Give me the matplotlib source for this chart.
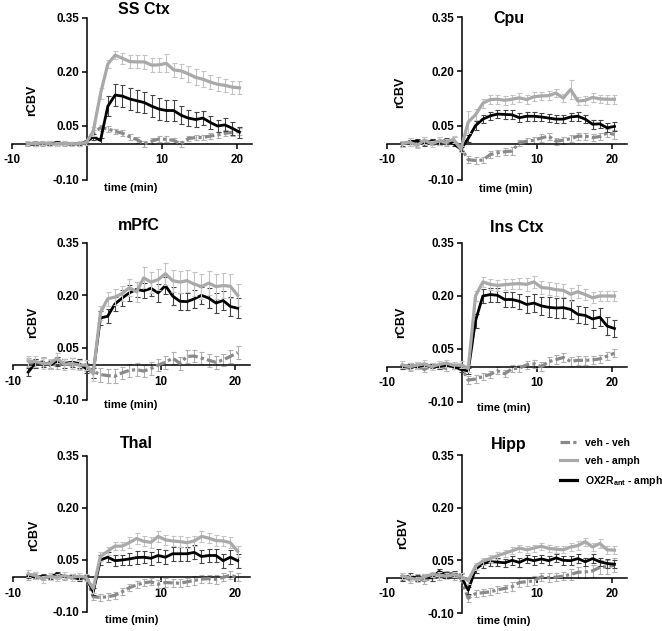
import matplotlib
matplotlib.use('Agg')
import matplotlib.pyplot as plt
from matplotlib.lines import Line2D

plt.rcParams['font.family'] = ['Liberation Sans', 'DejaVu Sans']
plt.rcParams['font.weight'] = 'bold'
plt.rcParams['mathtext.fontset'] = 'custom'
plt.rcParams['mathtext.rm'] = 'Liberation Sans:bold'
plt.rcParams['mathtext.bf'] = 'Liberation Sans:bold'
plt.rcParams['mathtext.it'] = 'Liberation Sans:bold'

# ---------------- data ----------------
time = [-7.95, -6.98, -6.00, -5.03, -4.05, -3.08, -2.10, -1.13, -0.15, 0.83,
        1.80, 2.78, 3.75, 4.73, 5.70, 6.68, 7.65, 8.63, 9.60, 10.58,
        11.55, 12.53, 13.50, 14.48, 15.45, 16.43, 17.40, 18.38, 19.35, 20.33]

regions = ['SS Ctx', 'Cpu', 'mPfC', 'Ins Ctx', 'Thal', 'Hipp']
series_labels = ['veh - veh', 'veh - amph', r'OX2R$_{\mathbf{ant}}$ - amph']
x_ticks = [-10, 10, 20]
y_ticks = [-0.10, 0.05, 0.20, 0.35]
y_tick_labels = ['-0.10', '0.05', '0.20', '0.35']

ss_vv = [0.000, 0.003, 0.000, 0.002, 0.000, 0.001, 0.000, 0.000, 0.002, 0.030, 0.045, 0.042, 0.035, 0.030, 0.020, 0.012, 0.000, 0.008, 0.014, 0.013, 0.010, 0.000, 0.015, 0.018, 0.018, 0.022, 0.025, 0.030, 0.032, 0.035]
ss_va = [0.002, 0.000, 0.003, 0.001, 0.000, 0.002, 0.000, 0.001, 0.003, 0.035, 0.140, 0.222, 0.247, 0.238, 0.229, 0.228, 0.228, 0.219, 0.220, 0.224, 0.206, 0.203, 0.195, 0.185, 0.180, 0.172, 0.166, 0.163, 0.158, 0.156]
ss_ox = [0.000, -0.002, 0.002, 0.000, 0.004, 0.000, 0.001, 0.000, 0.005, 0.020, 0.010, 0.105, 0.136, 0.133, 0.125, 0.120, 0.115, 0.105, 0.097, 0.093, 0.093, 0.080, 0.072, 0.068, 0.072, 0.060, 0.050, 0.053, 0.044, 0.033]
ss_vv_err = [0.006, 0.006, 0.005, 0.006, 0.005, 0.006, 0.005, 0.006, 0.006, 0.008, 0.008, 0.008, 0.008, 0.008, 0.008, 0.008, 0.008, 0.008, 0.008, 0.008, 0.008, 0.008, 0.008, 0.008, 0.008, 0.008, 0.008, 0.009, 0.010, 0.010]
ss_va_err = [0.006, 0.006, 0.006, 0.006, 0.006, 0.006, 0.006, 0.006, 0.006, 0.012, 0.015, 0.012, 0.012, 0.015, 0.018, 0.018, 0.020, 0.020, 0.020, 0.025, 0.020, 0.020, 0.022, 0.022, 0.022, 0.020, 0.020, 0.018, 0.018, 0.018]
ss_ox_err = [0.004, 0.004, 0.004, 0.004, 0.004, 0.004, 0.004, 0.004, 0.005, 0.008, 0.008, 0.028, 0.030, 0.030, 0.030, 0.030, 0.030, 0.030, 0.030, 0.030, 0.028, 0.025, 0.022, 0.020, 0.020, 0.018, 0.018, 0.018, 0.018, 0.015]

cpu_vv = [0.000, 0.005, 0.000, 0.008, 0.005, 0.010, 0.002, 0.010, -0.010, -0.044, -0.046, -0.045, -0.030, -0.025, -0.022, -0.020, 0.003, 0.007, 0.010, 0.016, 0.021, 0.007, 0.010, 0.014, 0.021, 0.021, 0.017, 0.020, 0.030, 0.026]
cpu_va = [0.000, 0.005, -0.005, 0.010, 0.000, 0.008, 0.005, 0.012, -0.015, 0.060, 0.080, 0.112, 0.122, 0.123, 0.120, 0.123, 0.127, 0.122, 0.130, 0.132, 0.133, 0.140, 0.126, 0.150, 0.118, 0.120, 0.128, 0.124, 0.123, 0.123]
cpu_ox = [0.000, 0.005, 0.008, 0.000, 0.007, 0.003, 0.010, 0.000, -0.015, 0.015, 0.050, 0.068, 0.077, 0.082, 0.081, 0.080, 0.072, 0.076, 0.076, 0.074, 0.071, 0.068, 0.068, 0.074, 0.076, 0.068, 0.054, 0.055, 0.044, 0.048]
cpu_vv_err = [0.008, 0.010, 0.008, 0.010, 0.008, 0.010, 0.008, 0.010, 0.008, 0.010, 0.010, 0.008, 0.010, 0.008, 0.010, 0.010, 0.008, 0.008, 0.010, 0.010, 0.010, 0.010, 0.010, 0.010, 0.010, 0.010, 0.010, 0.010, 0.012, 0.012]
cpu_va_err = [0.008, 0.010, 0.008, 0.010, 0.008, 0.010, 0.008, 0.010, 0.008, 0.030, 0.015, 0.012, 0.012, 0.012, 0.012, 0.012, 0.012, 0.012, 0.012, 0.012, 0.012, 0.012, 0.012, 0.025, 0.012, 0.012, 0.012, 0.012, 0.012, 0.012]
cpu_ox_err = [0.006, 0.006, 0.006, 0.006, 0.006, 0.006, 0.006, 0.006, 0.006, 0.010, 0.012, 0.012, 0.012, 0.012, 0.012, 0.012, 0.012, 0.012, 0.012, 0.012, 0.012, 0.012, 0.012, 0.012, 0.012, 0.012, 0.012, 0.012, 0.012, 0.012]

mp_vv = [0.008, 0.005, 0.010, 0.003, 0.000, 0.005, 0.000, 0.002, -0.005, -0.018, -0.027, -0.030, -0.032, -0.022, -0.015, -0.013, -0.017, -0.010, 0.000, 0.008, 0.020, 0.005, 0.025, 0.026, 0.020, 0.014, 0.008, 0.015, 0.025, 0.036]
mp_va = [0.012, 0.010, 0.005, 0.003, 0.020, 0.002, 0.005, 0.000, 0.000, -0.025, 0.150, 0.190, 0.195, 0.205, 0.222, 0.210, 0.250, 0.238, 0.245, 0.262, 0.242, 0.238, 0.242, 0.232, 0.225, 0.235, 0.225, 0.228, 0.226, 0.200]
mp_ox = [-0.020, 0.005, 0.008, 0.000, 0.010, 0.005, 0.008, 0.005, -0.010, -0.022, 0.135, 0.140, 0.175, 0.192, 0.207, 0.217, 0.213, 0.220, 0.207, 0.228, 0.198, 0.183, 0.182, 0.190, 0.200, 0.192, 0.178, 0.185, 0.168, 0.163]
mp_vv_err = [0.012, 0.012, 0.012, 0.012, 0.012, 0.012, 0.012, 0.012, 0.012, 0.020, 0.020, 0.020, 0.020, 0.018, 0.018, 0.018, 0.018, 0.018, 0.018, 0.018, 0.018, 0.018, 0.018, 0.018, 0.018, 0.018, 0.018, 0.018, 0.018, 0.018]
mp_va_err = [0.015, 0.015, 0.015, 0.015, 0.015, 0.015, 0.015, 0.015, 0.015, 0.020, 0.020, 0.020, 0.022, 0.022, 0.025, 0.028, 0.030, 0.030, 0.030, 0.032, 0.032, 0.032, 0.032, 0.035, 0.035, 0.035, 0.035, 0.035, 0.035, 0.032]
mp_ox_err = [0.012, 0.012, 0.012, 0.012, 0.012, 0.012, 0.012, 0.012, 0.012, 0.015, 0.020, 0.020, 0.020, 0.022, 0.022, 0.022, 0.022, 0.022, 0.025, 0.025, 0.025, 0.025, 0.025, 0.025, 0.025, 0.028, 0.028, 0.028, 0.028, 0.028]

ins_vv = [0.000, -0.005, 0.005, -0.008, 0.003, 0.000, -0.005, 0.005, 0.000, -0.038, -0.035, -0.028, -0.022, -0.012, -0.020, -0.006, -0.004, 0.005, 0.008, 0.000, 0.014, 0.020, 0.026, 0.015, 0.018, 0.018, 0.019, 0.022, 0.030, 0.038]
ins_va = [0.005, 0.000, 0.004, 0.008, 0.000, 0.006, 0.010, 0.004, 0.005, -0.005, 0.200, 0.240, 0.233, 0.230, 0.232, 0.234, 0.235, 0.233, 0.240, 0.224, 0.222, 0.218, 0.216, 0.205, 0.212, 0.204, 0.195, 0.200, 0.200, 0.200]
ins_ox = [0.000, 0.003, 0.000, 0.005, 0.002, 0.000, 0.005, 0.000, -0.008, -0.012, 0.130, 0.200, 0.204, 0.202, 0.190, 0.190, 0.185, 0.176, 0.180, 0.172, 0.168, 0.166, 0.167, 0.162, 0.148, 0.145, 0.135, 0.140, 0.115, 0.108]
ins_vv_err = [0.008, 0.008, 0.008, 0.008, 0.008, 0.008, 0.008, 0.008, 0.008, 0.012, 0.010, 0.010, 0.010, 0.010, 0.010, 0.010, 0.010, 0.012, 0.012, 0.012, 0.012, 0.012, 0.012, 0.012, 0.012, 0.012, 0.012, 0.012, 0.012, 0.012]
ins_va_err = [0.010, 0.010, 0.010, 0.010, 0.010, 0.010, 0.010, 0.010, 0.010, 0.010, 0.015, 0.015, 0.015, 0.015, 0.015, 0.015, 0.015, 0.018, 0.018, 0.018, 0.018, 0.018, 0.018, 0.018, 0.018, 0.015, 0.015, 0.015, 0.015, 0.015]
ins_ox_err = [0.006, 0.006, 0.006, 0.006, 0.006, 0.006, 0.006, 0.006, 0.006, 0.008, 0.020, 0.020, 0.020, 0.020, 0.020, 0.022, 0.022, 0.025, 0.025, 0.025, 0.028, 0.028, 0.028, 0.028, 0.025, 0.025, 0.025, 0.025, 0.025, 0.025]

th_vv = [0.000, 0.008, 0.000, 0.000, 0.003, 0.000, 0.002, 0.000, 0.000, -0.056, -0.058, -0.056, -0.052, -0.042, -0.030, -0.022, -0.016, -0.013, -0.020, -0.015, -0.016, -0.017, -0.013, -0.009, -0.005, -0.004, -0.006, 0.000, 0.006, 0.000]
th_va = [0.010, 0.005, -0.005, 0.003, 0.000, 0.005, 0.000, 0.003, 0.000, -0.032, 0.060, 0.075, 0.090, 0.090, 0.100, 0.112, 0.104, 0.101, 0.118, 0.108, 0.105, 0.103, 0.100, 0.105, 0.118, 0.113, 0.106, 0.105, 0.100, 0.075]
th_ox = [0.005, 0.000, 0.003, 0.000, 0.010, 0.002, 0.003, -0.005, 0.000, -0.042, 0.050, 0.058, 0.048, 0.050, 0.053, 0.057, 0.058, 0.055, 0.063, 0.058, 0.068, 0.068, 0.068, 0.072, 0.060, 0.063, 0.063, 0.048, 0.058, 0.048]
th_vv_err = [0.008, 0.008, 0.008, 0.008, 0.008, 0.008, 0.008, 0.008, 0.008, 0.010, 0.010, 0.010, 0.010, 0.010, 0.010, 0.010, 0.010, 0.010, 0.012, 0.012, 0.012, 0.012, 0.012, 0.012, 0.012, 0.012, 0.012, 0.012, 0.012, 0.012]
th_va_err = [0.010, 0.010, 0.010, 0.010, 0.010, 0.010, 0.010, 0.010, 0.010, 0.012, 0.012, 0.012, 0.012, 0.012, 0.015, 0.015, 0.015, 0.015, 0.015, 0.015, 0.015, 0.015, 0.015, 0.015, 0.015, 0.015, 0.015, 0.015, 0.015, 0.015]
th_ox_err = [0.006, 0.006, 0.006, 0.006, 0.006, 0.006, 0.006, 0.006, 0.006, 0.010, 0.015, 0.015, 0.015, 0.015, 0.018, 0.018, 0.018, 0.018, 0.020, 0.020, 0.020, 0.020, 0.020, 0.020, 0.020, 0.020, 0.020, 0.020, 0.020, 0.020]

hp_vv = [0.005, -0.005, 0.000, -0.008, 0.000, 0.005, 0.010, 0.005, 0.000, -0.058, -0.045, -0.042, -0.040, -0.034, -0.030, -0.025, -0.013, -0.011, -0.008, 0.003, 0.001, 0.002, 0.005, 0.010, 0.016, 0.017, 0.020, 0.030, 0.032, 0.036]
hp_va = [0.005, 0.000, -0.005, 0.003, 0.010, 0.008, 0.005, 0.010, 0.005, -0.008, 0.033, 0.048, 0.055, 0.063, 0.070, 0.077, 0.085, 0.080, 0.085, 0.090, 0.084, 0.082, 0.080, 0.088, 0.092, 0.103, 0.088, 0.098, 0.080, 0.079]
hp_ox = [0.000, 0.005, 0.000, 0.003, 0.000, 0.018, 0.010, 0.012, 0.005, -0.035, 0.025, 0.040, 0.046, 0.045, 0.043, 0.050, 0.044, 0.054, 0.049, 0.054, 0.049, 0.057, 0.050, 0.049, 0.055, 0.046, 0.055, 0.046, 0.041, 0.039]
hp_vv_err = [0.010, 0.010, 0.010, 0.010, 0.010, 0.010, 0.010, 0.010, 0.010, 0.010, 0.010, 0.010, 0.010, 0.010, 0.010, 0.012, 0.012, 0.012, 0.012, 0.012, 0.012, 0.012, 0.012, 0.015, 0.015, 0.018, 0.018, 0.020, 0.020, 0.020]
hp_va_err = [0.008, 0.008, 0.008, 0.008, 0.008, 0.008, 0.008, 0.008, 0.008, 0.010, 0.010, 0.010, 0.010, 0.010, 0.010, 0.010, 0.010, 0.010, 0.010, 0.010, 0.010, 0.010, 0.010, 0.012, 0.012, 0.012, 0.012, 0.012, 0.012, 0.012]
hp_ox_err = [0.008, 0.008, 0.008, 0.008, 0.008, 0.008, 0.008, 0.008, 0.008, 0.010, 0.012, 0.012, 0.012, 0.012, 0.012, 0.012, 0.012, 0.012, 0.012, 0.012, 0.012, 0.012, 0.012, 0.012, 0.012, 0.012, 0.012, 0.012, 0.012, 0.012]

panel_data = [
    (ss_vv, ss_va, ss_ox, ss_vv_err, ss_va_err, ss_ox_err),
    (cpu_vv, cpu_va, cpu_ox, cpu_vv_err, cpu_va_err, cpu_ox_err),
    (mp_vv, mp_va, mp_ox, mp_vv_err, mp_va_err, mp_ox_err),
    (ins_vv, ins_va, ins_ox, ins_vv_err, ins_va_err, ins_ox_err),
    (th_vv, th_va, th_ox, th_vv_err, th_va_err, th_ox_err),
    (hp_vv, hp_va, hp_ox, hp_vv_err, hp_va_err, hp_ox_err),
]

# ---------------- layout (pixels) ----------------
W, H = 662, 631
# L, R, T, B of axes box; title centre; rCBV centre; time label centre
layout = [
    (12, 252, 18, 180, (144, 10), (32, 100), (131, 188)),
    (387, 627, 17, 180, (509, 18), (400, 92), (506, 189)),
    (13, 250, 243, 400, (139, 225), (33, 322), (131, 405)),
    (387, 627, 243, 402, (517, 228), (401, 322), (504, 408)),
    (13, 250, 456, 612, (136, 444), (34, 535), (132, 620)),
    (387, 627, 455, 613, (509, 445), (403, 533), (504, 621)),
]

c_vv = '#8a8a8a'
c_va = '#a9a9a9'
c_ox = '#000000'
vv_style = (0, (3.0, 1.0, 1.0, 1.0))

fig = plt.figure(figsize=(W / 100, H / 100), dpi=100)


def fx(px):
    return px / W


def fy(py):
    return 1 - py / H


for name, (L, R, T, B, tpos, ypos, xpos), d in zip(regions, layout, panel_data):
    vv, va, ox, vv_e, va_e, ox_e = d
    ax = fig.add_axes([fx(L), fy(B), (R - L) / W, (B - T) / H])
    ax.set_xlim(-10, 22)
    ax.set_ylim(-0.10, 0.35)
    for s in ('top', 'right'):
        ax.spines[s].set_visible(False)
    ax.spines['left'].set_position(('data', 0))
    ax.spines['bottom'].set_position(('data', 0))
    for s in ('left', 'bottom'):
        ax.spines[s].set_linewidth(1.1)
    ax.set_xticks(x_ticks)
    ax.set_xticklabels([str(v) for v in x_ticks])
    ax.set_yticks(y_ticks)
    ax.set_yticklabels(y_tick_labels)
    ax.tick_params(axis='both', direction='out', length=3.5, width=1.1,
                   labelsize=8.4, pad=2)
    ax.tick_params(axis='x', pad=4)
    for lab in ax.get_xticklabels() + ax.get_yticklabels():
        lab.set_fontweight('bold')
    ax.patch.set_alpha(0)

    ax.errorbar(time, vv, yerr=vv_e, fmt='none', ecolor='#b0b0b0',
                elinewidth=0.8, capsize=1.8, capthick=0.8, zorder=2)
    ax.plot(time, vv, color=c_vv, lw=2.3, linestyle=vv_style, zorder=3)
    ax.errorbar(time, ox, yerr=ox_e, fmt='none', ecolor='#444444',
                elinewidth=0.8, capsize=1.8, capthick=0.8, zorder=4)
    ax.plot(time, ox, color=c_ox, lw=2.0, zorder=5)
    ax.errorbar(time, va, yerr=va_e, fmt='none', ecolor='#c4c4c4',
                elinewidth=0.8, capsize=1.8, capthick=0.8, zorder=6)
    ax.plot(time, va, color=c_va, lw=2.3, zorder=7)

    fig.text(fx(tpos[0]), fy(tpos[1]), name, ha='center', va='center',
             fontsize=11.5, fontweight='bold')
    fig.text(fx(ypos[0]), fy(ypos[1]), 'rCBV', ha='center', va='center',
             rotation=90, fontsize=9, fontweight='bold')
    fig.text(fx(xpos[0]), fy(xpos[1]), 'time (min)', ha='center', va='center',
             fontsize=8, fontweight='bold')

handles = [
    Line2D([], [], color=c_vv, lw=2.3, linestyle=vv_style),
    Line2D([], [], color=c_va, lw=2.3),
    Line2D([], [], color=c_ox, lw=2.3),
]
fig.legend(handles, series_labels, loc='upper left',
           bbox_to_anchor=(fx(560), fy(438)), frameon=False,
           prop={'size': 7.5, 'weight': 'bold'}, handlelength=1.6,
           handletextpad=0.8, labelspacing=0.75, borderpad=0, borderaxespad=0)

fig.savefig('out.png', dpi=100)
